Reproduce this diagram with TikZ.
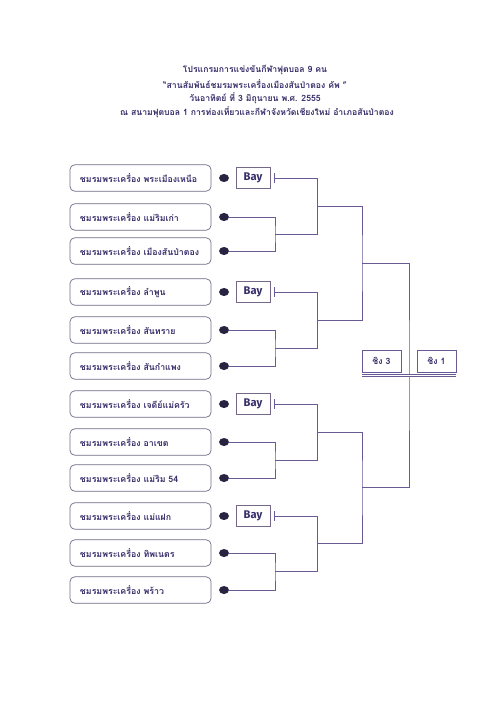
\documentclass[tikz,border=0pt]{standalone}
\usepackage{fontspec}
\usepackage{tikz}
\usetikzlibrary{shapes.geometric, arrows.meta}
\newfontfamily\thaifont[Script=Thai]{Loma}
\newfontfamily\bayfont{Fira Sans}
\definecolor{inkcol}{RGB}{55,45,105}
\definecolor{linecol}{RGB}{105,90,150}
\definecolor{framecol}{RGB}{115,105,135}
\definecolor{dotcol}{RGB}{40,35,65}
\tikzset{
  teambox/.style={draw=framecol, line width=0.6pt, rounded corners=4pt, minimum width=4.23cm, minimum height=0.79cm, text width=3.63cm, inner xsep=0.3cm, align=left, text=inkcol, font=\thaifont\bfseries\fontsize{7.5}{9}\selectfont},
  dot/.style={ellipse, fill=dotcol, inner sep=0pt, minimum width=0.3cm, minimum height=0.24cm},
  baybox/.style={draw=framecol, line width=0.6pt, minimum width=1.02cm, minimum height=0.63cm, inner sep=0pt, text=inkcol, font=\bayfont\bfseries\fontsize{9.5}{11}\selectfont},
  finalbox/.style={draw=linecol, line width=0.6pt, minimum width=1.17cm, minimum height=0.66cm, inner sep=0pt, text=inkcol, font=\thaifont\bfseries\fontsize{7.5}{9}\selectfont},
  bracket/.style={draw=linecol, line width=0.7pt},
  titletext/.style={text=inkcol, inner sep=0pt, font=\thaifont\bfseries\fontsize{7.4}{9}\selectfont}
}
\begin{document}
\begin{tikzpicture}[x=0.03cm, y=-0.03cm]
  \useasboundingbox[fill=white] (0,0) rectangle (500,707);
  \node[titletext] (title1) at (255,70) {โปรแกรมการแข่งขันกีฬาฟุตบอล 9 คน};
  \node[titletext] (title2) at (255,84) {“สานสัมพันธ์ชมรมพระเครื่องเมืองสันป่าตอง คัพ ”};
  \node[titletext] (title3) at (255,98) {วันอาทิตย์ ที่ 3 มิถุนายน พ.ศ. 2555};
  \node[titletext] (title4) at (257,112) {ณ สนามฟุตบอล 1 การท่องเที่ยวและกีฬาจังหวัดเชียงใหม่ อำเภอสันป่าตอง};

  \node[teambox] (t1) at (140.5,178) {ชมรมพระเครื่อง พระเมืองเหนือ};
  \node[teambox] (t2) at (140.5,217) {ชมรมพระเครื่อง แม่ริมเก่า};
  \node[teambox] (t3) at (140.5,251) {ชมรมพระเครื่อง เมืองสันป่าตอง};
  \node[teambox] (t4) at (140.5,292) {ชมรมพระเครื่อง ลำพูน};
  \node[teambox] (t5) at (140.5,330) {ชมรมพระเครื่อง สันทราย};
  \node[teambox] (t6) at (140.5,366) {ชมรมพระเครื่อง สันกำแพง};
  \node[teambox] (t7) at (140.5,404) {ชมรมพระเครื่อง เจดีย์แม่ครัว};
  \node[teambox] (t8) at (140.5,442) {ชมรมพระเครื่อง อาเขต};
  \node[teambox] (t9) at (140.5,478) {ชมรมพระเครื่อง แม่ริม 54};
  \node[teambox] (t10) at (140.5,516) {ชมรมพระเครื่อง แม่แฝก};
  \node[teambox] (t11) at (140.5,553) {ชมรมพระเครื่อง ทิพเนตร};
  \node[teambox] (t12) at (140.5,590) {ชมรมพระเครื่อง พร้าว};

  \node[dot] (d1) at (224,178) {};
  \node[dot] (d2) at (224,217) {};
  \node[dot] (d3) at (224,251) {};
  \node[dot] (d4) at (224,292) {};
  \node[dot] (d5) at (224,330) {};
  \node[dot] (d6) at (224,366) {};
  \node[dot] (d7) at (224,404) {};
  \node[dot] (d8) at (224,442) {};
  \node[dot] (d9) at (224,478) {};
  \node[dot] (d10) at (224,516) {};
  \node[dot] (d11) at (224,553) {};
  \node[dot] (d12) at (224,590) {};

  \node[baybox] (b1) at (253,178) {Bay};
  \node[baybox] (b2) at (253,292) {Bay};
  \node[baybox] (b3) at (253,404) {Bay};
  \node[baybox] (b4) at (253,516) {Bay};

  \coordinate (p1) at (275,234);
  \coordinate (p2) at (275,348);
  \coordinate (p3) at (275,460);
  \coordinate (p4) at (275,571.5);
  \coordinate (q1) at (317,234);
  \coordinate (q2) at (317,348);
  \coordinate (q3) at (317,460);
  \coordinate (q4) at (317,571.5);
  \coordinate (r1) at (317,206);
  \coordinate (r2) at (317,320);
  \coordinate (r3) at (317,432);
  \coordinate (r4) at (317,543.75);
  \coordinate (s1) at (362,263);
  \coordinate (s2) at (362,487.9);
  \coordinate (f) at (409,375.4);

  \draw[bracket] (d2.east) -| (p1) |- (d3.east);
  \draw[bracket] (d5.east) -| (p2) |- (d6.east);
  \draw[bracket] (d8.east) -| (p3) |- (d9.east);
  \draw[bracket] (d11.east) -| (p4) |- (d12.east);
  \draw[bracket, {Bar[width=8pt]}-] ([xshift=0.12cm]b1.east) -| (q1) -- (p1);
  \draw[bracket, {Bar[width=8pt]}-] ([xshift=0.12cm]b2.east) -| (q2) -- (p2);
  \draw[bracket, {Bar[width=8pt]}-] ([xshift=0.12cm]b3.east) -| (q3) -- (p3);
  \draw[bracket, {Bar[width=8pt]}-] ([xshift=0.12cm]b4.east) -| (q4) -- (p4);
  \draw[bracket] (r1) -| (s1) |- (r2);
  \draw[bracket] (r3) -| (s2) |- (r4);
  \draw[bracket] (s1) -| (f) |- (s2);

  \node[finalbox] (third) at (381.5,361) {ชิง 3};
  \node[finalbox] (first) at (436.5,361) {ชิง 1};
  \coordinate (u1) at (362,375.5);
  \coordinate (u2) at (456,375.5);
  \draw[bracket, double, double distance=1.2pt] (u1) -- (u2);
\end{tikzpicture}
\end{document}
